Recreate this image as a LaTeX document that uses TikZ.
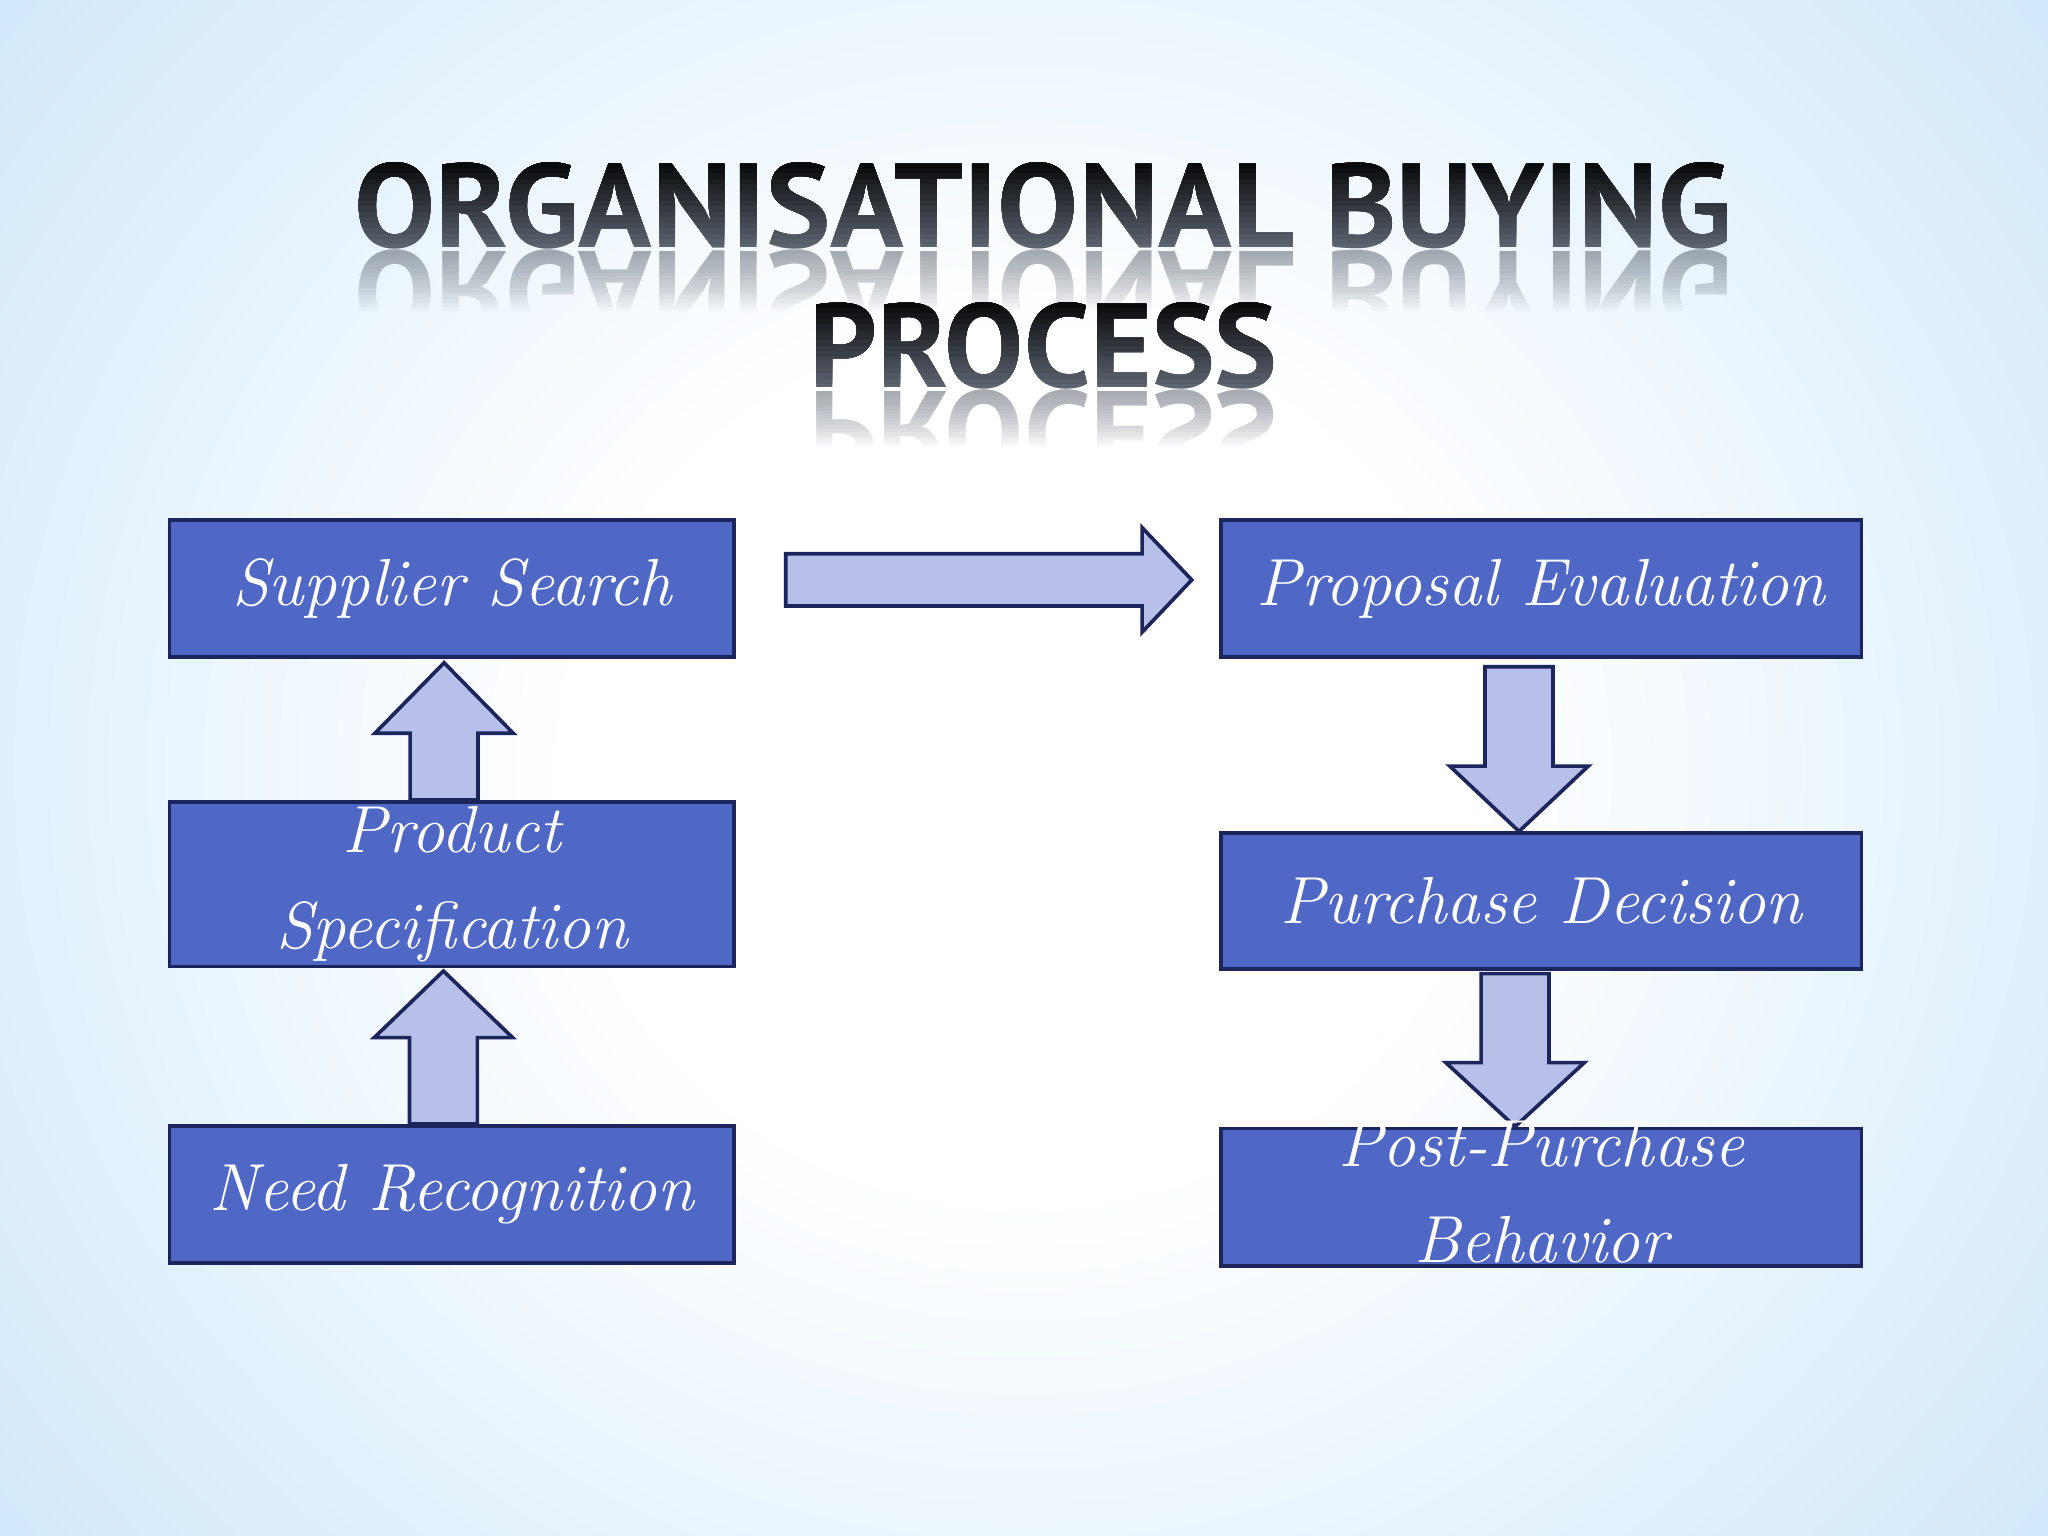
\documentclass[tikz,border=0pt]{standalone}
\usepackage{fontspec}
\usepackage{graphicx}
\usetikzlibrary{calc,positioning}
\newfontfamily\titlefont{PT Sans}

\definecolor{boxblue}{RGB}{79,104,198}
\definecolor{boxline}{RGB}{28,38,92}
\definecolor{arrowfill}{RGB}{184,192,234}
\definecolor{bgedge}{RGB}{165,210,246}
\definecolor{bgmid}{RGB}{214,235,251}
\definecolor{titleslate}{RGB}{92,100,112}

\pgfdeclareradialshading{bgshade}{\pgfpoint{0bp}{0bp}}{color(0bp)=(white); color(11bp)=(white); color(30bp)=(bgmid); color(50bp)=(bgedge)}

% block arrow, vertical: tip, base, signed head length
\newcommand{\vblock}[3]{\draw[blockarrow] ($(#2)+(-26,0)$) -- ($(#1)+(-26,#3)$) -- ($(#1)+(-53,#3)$) -- (#1) -- ($(#1)+(53,#3)$) -- ($(#1)+(26,#3)$) -- ($(#2)+(26,0)$) -- cycle;}
\newcommand{\titleone}{\resizebox{10.54cm}{0.65cm}{\titlefont\bfseries ORGANISATIONAL BUYING}}
\newcommand{\titletwo}{\resizebox{3.58cm}{0.65cm}{\titlefont\bfseries PROCESS}}

\begin{document}
\begin{tikzpicture}[x=0.01cm, y=-0.01cm,
  stepbox/.style={draw=boxline, line width=0.8pt, fill=boxblue, inner sep=0pt},
  boxtext/.style={text=white, align=center, inner sep=0pt, font=\fontsize{14.5}{21}\selectfont\itshape},
  blockarrow/.style={draw=boxline, line width=0.8pt, fill=arrowfill, line join=miter},
  titletext/.style={inner sep=0pt}]

\useasboundingbox (0,0) rectangle (1568,1176);

% background
\begin{scope}
\clip (0,0) rectangle (1568,1176);
\shade[shading=bgshade] (0,-150) rectangle (1568,1326);
\end{scope}

% title reflections, fading downwards
\foreach \i in {1,...,16}{
  \begin{scope}
  \clip (250,191) rectangle (1350,{191+2.9*\i});
  \node[titletext, text=titleslate, opacity=0.045] (refone) at (799,224.5) {\scalebox{1}[-1]{\titleone}};
  \end{scope}
  \begin{scope}
  \clip (600,298) rectangle (1000,{298+2.7*\i});
  \node[titletext, text=titleslate, opacity=0.045] (reftwo) at (799,331.5) {\scalebox{1}[-1]{\titletwo}};
  \end{scope}
}

% title, dark at the top
\node[titletext, text=titleslate] (titlea) at (799,157.5) {\titleone};
\node[titletext, text=titleslate] (titleb) at (799,264.5) {\titletwo};
\foreach \i [evaluate=\i as \p using int(100-6*\i)] in {1,...,15}{
  \begin{scope}
  \clip (250,100) rectangle (1350,{124+67*(16-\i)/16});
  \node[titletext, text=titleslate!\p!black] at (titlea) {\titleone};
  \end{scope}
  \begin{scope}
  \clip (600,210) rectangle (1000,{231+67*(16-\i)/16});
  \node[titletext, text=titleslate!\p!black] at (titleb) {\titletwo};
  \end{scope}
}

% boxes
\node[stepbox, minimum width=4.32cm, minimum height=1.05cm] (ss) at (346,450.5) {};
\node[stepbox, minimum width=4.32cm, minimum height=1.26cm] (ps) at (346,677) {};
\node[stepbox, minimum width=4.32cm, minimum height=1.05cm] (nr) at (346,914.5) {};
\node[stepbox, minimum width=4.90cm, minimum height=1.05cm] (pe) at (1180,450.5) {};
\node[stepbox, minimum width=4.90cm, minimum height=1.04cm] (pd) at (1180,690) {};
\node[stepbox, minimum width=4.90cm, minimum height=1.05cm] (ppb) at (1180,916.5) {};

% arrows
\coordinate (nrtop) at ($(nr.north)+(-6.5,0)$);
\coordinate (psbot) at ($(ps.south)+(-6.5,2)$);
\coordinate (pstop) at ($(ps.north)+(-6,0)$);
\coordinate (ssbot) at ($(ss.south)+(-6,3)$);
\coordinate (pebot) at ($(pe.south)+(-17,6)$);
\coordinate (pdtop) at ($(pd.north)+(-17,0)$);
\coordinate (pdbot) at ($(pd.south)+(-20,2)$);
\coordinate (ppbtop) at ($(ppb.north)+(-20,0)$);
\coordinate (rtail) at ($(ss.east)+(38,-6.5)$);
\coordinate (rtip) at ($(pe.west)+(-21,-6.5)$);

\vblock{psbot}{nrtop}{51}
\vblock{ssbot}{pstop}{54}
\vblock{pdtop}{pebot}{-50}
\vblock{ppbtop}{pdbot}{-49}
\draw[blockarrow] ($(rtail)+(0,-20)$) -- ($(rtip)+(-38,-20)$) -- ($(rtip)+(-38,-40)$) -- (rtip)
  -- ($(rtip)+(-38,40)$) -- ($(rtip)+(-38,20)$) -- ($(rtail)+(0,20)$) -- cycle;

% texts
\node[boxtext] (sstext) at (ss) {Supplier Search};
\node[boxtext] (pstext) at (ps) {Product\\Specification};
\node[boxtext] (nrtext) at (nr) {Need Recognition};
\node[boxtext] (petext) at (pe) {Proposal Evaluation};
\node[boxtext] (pdtext) at (pd) {Purchase Decision};
\node[boxtext] (ppbtext) at ($(ppb)+(0,-4)$) {Post-Purchase\\Behavior};

\end{tikzpicture}
\end{document}
